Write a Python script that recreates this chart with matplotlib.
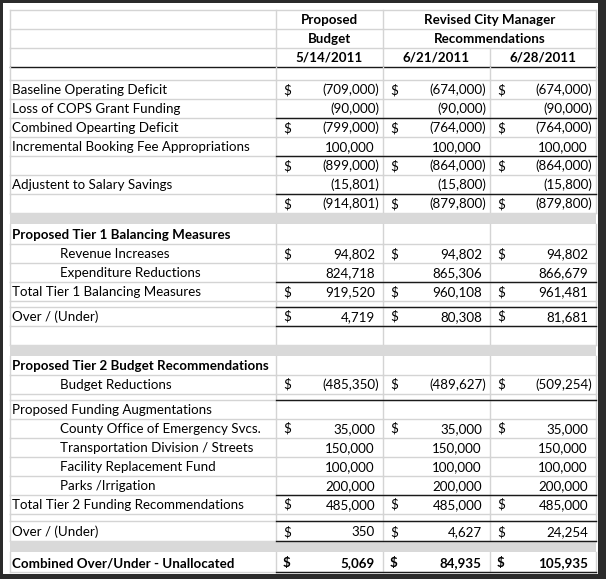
import matplotlib.pyplot as plt
from matplotlib.patches import Rectangle

plt.rcParams['font.family'] = ['Lato', 'DejaVu Sans']

# header text
header_budget = ["Proposed", "Budget", "5/14/2011"]
header_revised = ["Revised City Manager", "Recommendations"]
header_dates = ["6/21/2011", "6/28/2011"]

# table body (None = empty cell)
row_labels = [
    "", "Baseline Operating Deficit", "Loss of COPS Grant Funding",
    "Combined Opearting Deficit", "Incremental Booking Fee Appropriations",
    "", "Adjustent to Salary Savings", "", "",
    "Proposed Tier 1 Balancing Measures", "Revenue Increases",
    "Expenditure Reductions", "Total Tier 1 Balancing Measures", "",
    "Over / (Under)", "", "",
    "Proposed Tier 2 Budget Recommendations", "Budget Reductions", "",
    "Proposed Funding Augmentations", "County Office of Emergency Svcs.",
    "Transportation Division / Streets", "Facility Replacement Fund",
    "Parks /Irrigation", "Total Tier 2 Funding Recommendations", "",
    "Over / (Under)", "", "Combined Over/Under - Unallocated",
]
budget_0514 = [
    None, -709000, -90000, -799000, 100000, -899000, -15801, -914801, None,
    None, 94802, 824718, 919520, None, 4719, None, None,
    None, -485350, None, None, 35000, 150000, 100000, 200000, 485000, None,
    350, None, 5069,
]
rec_0621 = [
    None, -674000, -90000, -764000, 100000, -864000, -15800, -879800, None,
    None, 94802, 865306, 960108, None, 80308, None, None,
    None, -489627, None, None, 35000, 150000, 100000, 200000, 485000, None,
    4627, None, 84935,
]
rec_0628 = [
    None, -674000, -90000, -764000, 100000, -864000, -15800, -879800, None,
    None, 94802, 866679, 961481, None, 81681, None, None,
    None, -509254, None, None, 35000, 150000, 100000, 200000, 485000, None,
    24254, None, 105935,
]

# layout per body row: (kind, height, indent, bold, dollar, rule on top)
layout = [
    ('row', 13, 0, 0, 0, 0), ('row', 19, 0, 0, 1, 0), ('row', 19, 0, 0, 0, 0),
    ('row', 19, 0, 0, 1, 1), ('row', 19, 0, 0, 0, 0), ('row', 19, 0, 0, 1, 1),
    ('row', 19, 0, 0, 0, 0), ('row', 19, 0, 0, 1, 1), ('band', 11, 0, 0, 0, 0),
    ('row', 20, 0, 1, 0, 0), ('row', 19, 1, 0, 1, 0), ('row', 19, 1, 0, 0, 0),
    ('row', 19, 0, 0, 1, 1), ('row', 6, 0, 0, 0, 0), ('row', 19, 0, 0, 1, 1),
    ('row', 19, 0, 0, 0, 1), ('band', 11, 0, 0, 0, 0),
    ('row', 19, 0, 1, 0, 0), ('row', 19, 1, 0, 1, 0), ('row', 6, 0, 0, 0, 0),
    ('row', 19, 0, 0, 0, 1), ('row', 19, 1, 0, 1, 0), ('row', 19, 1, 0, 0, 0),
    ('row', 19, 1, 0, 0, 0), ('row', 19, 1, 0, 0, 0), ('row', 19, 0, 0, 1, 1),
    ('row', 7, 0, 0, 0, 0), ('row', 20, 0, 0, 1, 1), ('band', 11, 0, 0, 0, 1),
    ('row', 20, 0, 1, 1, 0),
]

xs = [10, 276, 383, 490, 596]   # column borders
grid_c = '#d4d4d4'
rule_c = '#1a1a1a'
band_c = '#d9d9d9'
fs = 9.6


def fmt(v):
    s = f"{abs(v):,}"
    return f"({s})" if v < 0 else s


fig = plt.figure(figsize=(6.06, 5.79), dpi=100, facecolor='#2b2b2b')
ax = fig.add_axes([0, 0, 1, 1])
ax.set_xlim(0, 606)
ax.set_ylim(579, 0)
ax.axis('off')
ax.add_patch(Rectangle((3, 3), 595, 571, facecolor='white', edgecolor='none'))

# header rows
y = 10
for i in range(3):
    y0, y1 = y, y + 19
    ax.plot([xs[0], xs[-1]], [y0, y0], color=grid_c, lw=1)
    for k, x in enumerate(xs):
        if k == 3 and i < 2:
            continue
        ax.plot([x, x], [y0, y1], color=grid_c, lw=1)
    ax.text((xs[1] + xs[2]) / 2, y1 - 5, header_budget[i], ha='center',
            va='baseline', fontsize=fs, fontweight='bold')
    if i < 2:
        ax.text((xs[2] + xs[4]) / 2, y1 - 5, header_revised[i], ha='center',
                va='baseline', fontsize=fs, fontweight='bold')
    else:
        for j, d in enumerate(header_dates):
            ax.text((xs[2 + j] + xs[3 + j]) / 2, y1 - 5, d, ha='center',
                    va='baseline', fontsize=fs, fontweight='bold')
    y = y1
ax.plot([xs[0], xs[-1]], [y, y], color=rule_c, lw=1)

cols = [budget_0514, rec_0621, rec_0628]
rules = []
for r, (kind, h, indent, bold, dollar, rule) in enumerate(layout):
    y0, y1 = y, y + h
    if rule:
        rules.append(y0)
    if kind == 'band':
        ax.add_patch(Rectangle((xs[0], y0), xs[-1] - xs[0], h,
                               facecolor=band_c, edgecolor='none', zorder=2))
    else:
        ax.plot([xs[0], xs[-1]], [y1, y1], color=grid_c, lw=1)
        for x in xs:
            ax.plot([x, x], [y0, y1], color=grid_c, lw=1)
        fw = 'bold' if bold else 'normal'
        lab = row_labels[r]
        if lab:
            ax.text(60 if indent else 12, y1 - 5, lab, ha='left',
                    va='baseline', fontsize=fs, fontweight=fw)
        for j, vals in enumerate(cols):
            v = vals[r]
            if v is None:
                continue
            if dollar:
                ax.text(xs[1 + j] + 7, y1 - 5, "$", ha='left',
                        va='baseline', fontsize=fs, fontweight=fw)
            xr = xs[2 + j] - (4 if v < 0 else 8)
            ax.text(xr, y1 - 5, fmt(v), ha='right', va='baseline',
                    fontsize=fs, fontweight=fw)
    y = y1
rules.append(y)

for yr in rules:
    ax.plot([xs[1], xs[-1]], [yr, yr], color=rule_c, lw=1, zorder=3)

fig.savefig('out.png', dpi=100, facecolor=fig.get_facecolor())
